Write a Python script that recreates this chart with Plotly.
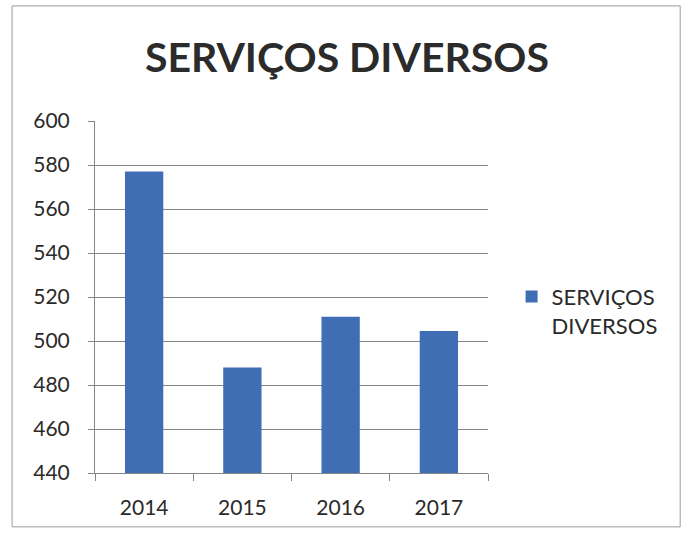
import plotly.graph_objects as go

# Annual totals for miscellaneous services
anos = ["2014", "2015", "2016", "2017"]
valores = [577, 488, 511, 504.5]
serie = "SERVIÇOS DIVERSOS"
y_ticks = [440, 460, 480, 500, 520, 540, 560, 580, 600]

fonte = "Lato, 'Open Sans', sans-serif"
cinza_texto = "#2a2a2a"
cinza_linha = "#858585"

fig = go.Figure()
fig.add_trace(go.Bar(
    x=anos,
    y=valores,
    name="SERVIÇOS<br>DIVERSOS",
    marker=dict(color="#3f6eb5", line=dict(width=0)),
    width=0.39,
))

fig.update_layout(
    width=687,
    height=536,
    paper_bgcolor="white",
    plot_bgcolor="white",
    margin=dict(l=95, r=199, t=121, b=63),
    title=dict(
        text="<b>" + serie + "</b>",
        x=0.505, xanchor="center",
        y=0.892, yanchor="middle",
        font=dict(family=fonte, size=41, color="#2b2b2b"),
    ),
    showlegend=True,
    legend=dict(
        x=1.06, xanchor="left",
        y=0.46, yanchor="middle",
        valign="top",
        font=dict(family=fonte, size=22, color=cinza_texto),
        itemwidth=30,
        bgcolor="rgba(0,0,0,0)",
    ),
    xaxis=dict(
        type="category",
        showgrid=False,
        showline=True,
        linecolor=cinza_linha,
        linewidth=1,
        ticks="outside",
        tickson="boundaries",
        ticklen=7,
        tickcolor=cinza_linha,
        tickfont=dict(family=fonte, size=21, color=cinza_texto),
        ticklabelstandoff=16,
    ),
    yaxis=dict(
        range=[440, 600],
        tickvals=y_ticks,
        showgrid=True,
        gridcolor=cinza_linha,
        gridwidth=1,
        showline=True,
        linecolor=cinza_linha,
        linewidth=1,
        ticks="outside",
        ticklen=6,
        tickcolor=cinza_linha,
        tickfont=dict(family=fonte, size=21, color=cinza_texto),
        ticklabelstandoff=14,
        zeroline=False,
    ),
    shapes=[
        dict(
            type="rect", xref="paper", yref="paper",
            x0=-0.211, x1=1.489, y0=-0.153, y1=1.327,
            line=dict(color="#9a9a9a", width=1),
            fillcolor="rgba(0,0,0,0)",
            layer="below",
        )
    ],
)

fig.write_html("out.html")
